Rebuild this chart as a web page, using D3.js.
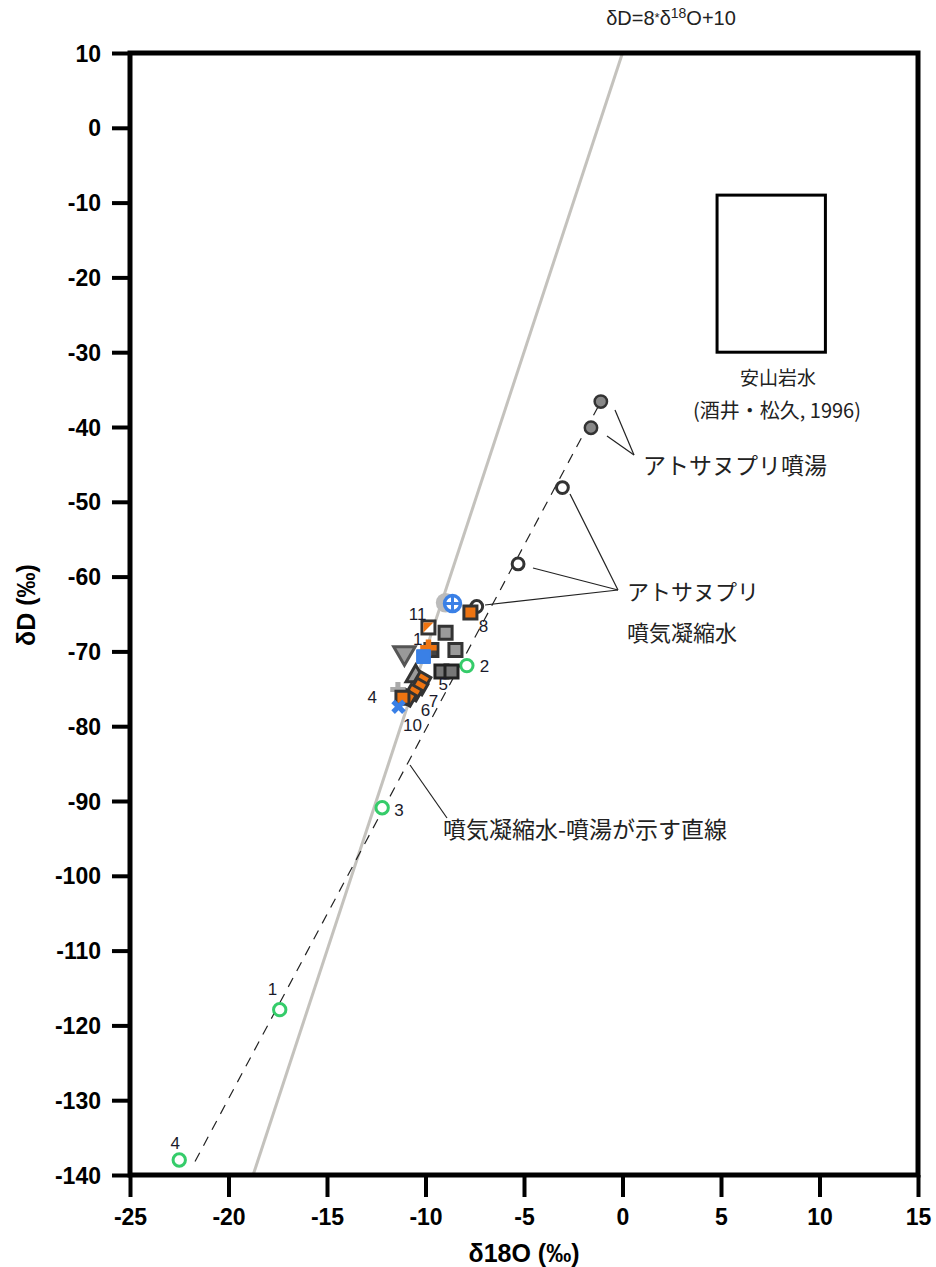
<!DOCTYPE html>
<html><head><meta charset="utf-8">
<script src="https://cdn.jsdelivr.net/npm/d3@7/dist/d3.min.js"></script>
<style>
body{margin:0;background:#fff;}
svg{display:block;font-family:"Liberation Sans",Arial,sans-serif;}
.jp{font-family:"Noto Sans CJK JP","Noto Sans",sans-serif;}
</style></head><body>
<svg id="c" width="936" height="1267"></svg>
<script>
// ---- data ----
const xTicks = [-25,-20,-15,-10,-5,0,5,10,15];
const yTicks = [10,0,-10,-20,-30,-40,-50,-60,-70,-80,-90,-100,-110,-120,-130,-140];
const gmwl = {slope:8, intercept:10};
const condLine = [[-21.7,-138.2],[-1.1,-36.6]];
const andesiteBox = {x0:4.8, x1:10.3, y0:-9, y1:-30};
const hotSpring = [[-1.1,-36.6],[-1.6,-40.1]];
const condensate = [[-3.05,-48.1],[-5.3,-58.3],[-7.4,-64.0]];
const greenPts = [[-17.4,-117.9],[-7.9,-71.9],[-12.2,-90.9],[-22.5,-138.0]];
const grayCircle = [[-8.98,-63.5]];
const blueCrossCircle = [[-8.63,-63.6]];
const orangeSquare = [[-7.72,-64.8],[-11.17,-76.2]];
const splitSquare = [[-9.85,-66.8]];
const graySquare = [[-8.98,-67.5],[-8.48,-69.8]];
const darkSquare = [[-9.7,-69.8]];
const orangePlus = [[-9.85,-69.5]];
const blueSquare = [[-10.1,-70.7]];
const grayDownTri = [[-11.07,-70.2]];
const stripedSquare = [[-9.19,-72.7],[-8.68,-72.7]];
const grayUpTri = [[-10.5,-73.3]];
const orangeDiamond = [[-10.15,-73.8],[-10.3,-74.7],[-10.6,-75.5],[-10.9,-76.2]];
const grayPlus = [[-11.4,-75.1]];
const blueX = [[-11.37,-77.4]];
const ptLabels = [
  [-10.4,-65.0,"11"],[-10.4,-68.4,"1"],[-7.06,-66.6,"8"],[-7.0,-71.9,"2"],
  [-9.1,-74.4,"5"],[-9.6,-76.6,"7"],[-10.0,-77.8,"6"],[-10.66,-79.9,"10"],
  [-12.7,-76.1,"4"],[-11.35,-91.2,"3"],[-17.77,-115.2,"1"],[-22.7,-135.7,"4"]
];

// ---- scales ----
const svg = d3.select("#c");
const x = d3.scaleLinear().domain([-25,15]).range([130,918]);
const y = d3.scaleLinear().domain([-140,10]).range([1175,53]);

const ORANGE = "#ee7411", BLUE = "#3a80e6", GRAY = "#9a9a9a", DARK = "#333", GREEN = "#35cc6a";

// GMWL
const gx0 = (-140 - gmwl.intercept)/gmwl.slope, gx1 = (10 - gmwl.intercept)/gmwl.slope;
svg.append("line").attr("x1",x(gx0)).attr("y1",y(-140)).attr("x2",x(gx1)).attr("y2",y(10))
  .attr("stroke","#c4c2bd").attr("stroke-width",3);

// dashed line
svg.append("line").attr("x1",x(condLine[0][0])).attr("y1",y(condLine[0][1]))
  .attr("x2",x(condLine[1][0])).attr("y2",y(condLine[1][1]))
  .attr("stroke","#222").attr("stroke-width",1.2).attr("stroke-dasharray","10,8");

// andesite box
svg.append("rect").attr("x",x(andesiteBox.x0)).attr("y",y(andesiteBox.y0))
  .attr("width",x(andesiteBox.x1)-x(andesiteBox.x0)).attr("height",y(andesiteBox.y1)-y(andesiteBox.y0))
  .attr("fill","none").attr("stroke","#000").attr("stroke-width",3);

// leader lines
const leaders = [[615,410,634,455],[607,436,634,455],[570,494,618,590],[533,568,618,590],[485,605,618,590],[410,765,447,818]];
svg.selectAll(".ld").data(leaders).join("line").attr("x1",d=>d[0]).attr("y1",d=>d[1]).attr("x2",d=>d[2]).attr("y2",d=>d[3])
  .attr("stroke","#222").attr("stroke-width",1.2);

// axes frame
svg.append("rect").attr("x",130).attr("y",53).attr("width",788).attr("height",1122)
  .attr("fill","none").attr("stroke","#000").attr("stroke-width",5);

const yAxis = svg.append("g").attr("transform","translate(130,0)")
  .call(d3.axisLeft(y).tickValues(yTicks).tickSize(18).tickPadding(11).tickFormat(d=>String(d)));
const xAxis = svg.append("g").attr("transform","translate(0,1175)")
  .call(d3.axisBottom(x).tickValues(xTicks).tickSize(22).tickPadding(12).tickFormat(d=>String(d)));
[yAxis,xAxis].forEach(a=>{
  a.select(".domain").remove();
  a.selectAll(".tick line").attr("stroke","#000").attr("stroke-width",4);
  a.selectAll(".tick text").attr("fill","#000").style("font-size","23px").style("font-weight","bold")
   .style("font-family","'Liberation Sans',Arial,sans-serif");
});
yAxis.selectAll(".tick text").attr("dy","0.35em");

// axis titles
svg.append("text").attr("x",524).attr("y",1262).attr("text-anchor","middle")
  .style("font-size","25px").style("font-weight","bold").text("δ18O (‰)");
svg.append("text").attr("transform","translate(35,605) rotate(-90)").attr("text-anchor","middle")
  .style("font-size","25px").style("font-weight","bold").text("δD (‰)");

// top label
const tl = svg.append("text").attr("x",671).attr("y",25).attr("text-anchor","middle").style("font-size","20px").attr("fill","#222");
tl.append("tspan").text("δD=8");
tl.append("tspan").text("*").style("font-size","13px").attr("dy","-3");
tl.append("tspan").text("δ").attr("dy","3");
tl.append("tspan").text("18").style("font-size","14px").attr("dy","-7");
tl.append("tspan").text("O+10").attr("dy","7");

// text annotations
const ann = [
  [740,385,"安山岩水",19,"start"],[693,418,"(酒井・松久, 1996)",20,"start"],
  [643,474,"アトサヌプリ噴湯",23,"start"],[627,600,"アトサヌプリ",22,"start"],
  [627,641,"噴気凝縮水",22,"start"],[443,838,"噴気凝縮水-噴湯が示す直線",23,"start"]
];
svg.selectAll(".ann").data(ann).join("text").attr("class","jp").attr("x",d=>d[0]).attr("y",d=>d[1])
  .attr("text-anchor",d=>d[4]).style("font-size",d=>d[3]+"px").attr("fill","#222").text(d=>d[2]);

// markers
function pts(data, shape, size, fill, stroke, sw, rot){
  svg.append("g").selectAll("path").data(data).join("path")
    .attr("d", d3.symbol().type(shape).size(size))
    .attr("transform", d=>`translate(${x(d[0])},${y(d[1])}) rotate(${rot||0})`)
    .attr("fill", fill).attr("stroke", stroke).attr("stroke-width", sw);
}
pts(greenPts, d3.symbolCircle, 120, "#fff", GREEN, 3);
pts(condensate, d3.symbolCircle, 110, "#fff", DARK, 3);
pts(hotSpring, d3.symbolCircle, 120, "#888", DARK, 2.5);
pts(grayCircle, d3.symbolCircle, 300, "#bbb", "none", 0);
pts(blueCrossCircle, d3.symbolCircle, 200, "#fff", BLUE, 3.5);
svg.append("g").selectAll("path").data(blueCrossCircle).join("path")
  .attr("d", d=>{const cx=x(d[0]), cy=y(d[1]); return `M${cx-7},${cy}H${cx+7}M${cx},${cy-7}V${cy+7}`;})
  .attr("stroke",BLUE).attr("stroke-width",3);
pts(graySquare, d3.symbolSquare, 170, GRAY, DARK, 3);
pts(darkSquare, d3.symbolSquare, 170, "#444", DARK, 3);
pts(orangePlus, d3.symbolCross, 150, ORANGE, "none", 0);
pts(blueSquare, d3.symbolSquare, 190, BLUE, BLUE, 1);
pts(grayDownTri, d3.symbolTriangle, 200, GRAY, "#555", 3, 180);
pts(stripedSquare, d3.symbolSquare, 170, "#777", "#222", 3);
pts(grayUpTri, d3.symbolTriangle, 160, GRAY, DARK, 3);
pts(orangeDiamond, d3.symbolSquare, 150, ORANGE, DARK, 3, 30);
pts(grayPlus, d3.symbolCross, 130, "#aaa", "none", 0);
pts(orangeSquare, d3.symbolSquare, 170, ORANGE, DARK, 3);
// split square (orange / white diagonal)
svg.append("g").selectAll("g").data(splitSquare).join("g")
  .attr("transform", d=>`translate(${x(d[0])},${y(d[1])})`)
  .each(function(){
    const g = d3.select(this);
    g.append("rect").attr("x",-6.5).attr("y",-6.5).attr("width",13).attr("height",13).attr("fill","#fff").attr("stroke",DARK).attr("stroke-width",3);
    g.append("path").attr("d","M-5,-5L5,-5L-5,5Z").attr("fill",ORANGE);
  });
pts(blueX, d3.symbolCross, 130, BLUE, "none", 0, 45);

// point labels
svg.selectAll(".pl").data(ptLabels).join("text").attr("x",d=>x(d[0])).attr("y",d=>y(d[1]))
  .attr("text-anchor","middle").attr("dy","0.35em").style("font-size","17px").attr("fill","#1a1a2a").text(d=>d[2]);
</script></body></html>
